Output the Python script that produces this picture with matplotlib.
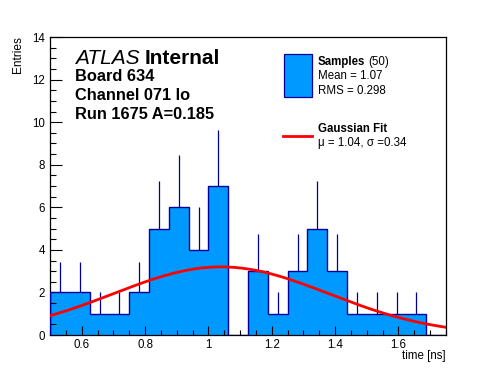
import numpy as np
import matplotlib
matplotlib.use("Agg")
import matplotlib.pyplot as plt
from matplotlib.patches import Rectangle
from matplotlib.lines import Line2D
from matplotlib.ticker import MultipleLocator, FixedLocator, FixedFormatter

# ---- data ----
bin_edges = np.linspace(0.5, 1.75, 21)
counts = [2, 2, 1, 1, 2, 5, 6, 4, 7, 0, 3, 1, 3, 5, 3, 1, 1, 1, 1, 0]
fit_amp = 3.2
fit_mu = 1.04
fit_sigma = 0.34
xticks = [0.6, 0.8, 1.0, 1.2, 1.4, 1.6]
xticklabels = ["0.6", "0.8", "1", "1.2", "1.4", "1.6"]
yticks = [0, 2, 4, 6, 8, 10, 12, 14]

FONT = "Liberation Sans"
plt.rcParams['font.family'] = [FONT, 'DejaVu Sans']

W, H = 496, 372
fig = plt.figure(figsize=(W / 100, H / 100), dpi=100)
fig.patch.set_facecolor("white")

def fx(px):
    return px / W

def fy(py):
    return 1 - py / H

ax = fig.add_axes([fx(50), fy(335), fx(446) - fx(50), fy(37) - fy(335)])

fill_c = "#0099ff"
line_c = "#000099"

counts_arr = np.array(counts, dtype=float)
centers = 0.5 * (bin_edges[:-1] + bin_edges[1:])

# error bars (upper half visible above fill)
mask = counts_arr > 0
ax.vlines(centers[mask], counts_arr[mask], counts_arr[mask] + np.sqrt(counts_arr[mask]),
          color=line_c, lw=0.9, zorder=2)

ax.stairs(counts_arr, bin_edges, fill=True, facecolor=fill_c, edgecolor="none", zorder=1)
ax.stairs(counts_arr, bin_edges, fill=False, edgecolor=line_c, lw=1.0, zorder=3)

xf = np.linspace(0.5, 1.75, 400)
yf = fit_amp * np.exp(-0.5 * ((xf - fit_mu) / fit_sigma) ** 2)
ax.plot(xf, yf, color="#ff0000", lw=2.0, zorder=4)

ax.set_xlim(0.5, 1.75)
ax.set_ylim(0, 14)

ax.xaxis.set_major_locator(FixedLocator(xticks))
ax.xaxis.set_major_formatter(FixedFormatter(xticklabels))
ax.xaxis.set_minor_locator(MultipleLocator(0.05))
ax.yaxis.set_major_locator(FixedLocator(yticks))
ax.yaxis.set_minor_locator(MultipleLocator(0.5))

ax.tick_params(axis="both", which="both", direction="in", top=False, right=False,
               labelsize=8.3, width=0.8, colors="black")
ax.tick_params(axis="x", which="major", length=6.5, pad=3)
ax.tick_params(axis="x", which="minor", length=3.3)
ax.tick_params(axis="y", which="major", length=8.6, pad=3.5)
ax.tick_params(axis="y", which="minor", length=4.3)
for s in ax.spines.values():
    s.set_linewidth(0.9)
    s.set_color("black")

fig.text(fx(446), fy(359), "time [ns]", ha="right", va="baseline", fontsize=8.3)
fig.text(fx(18.5), fy(36), "Entries", ha="center", va="top", rotation=90, fontsize=8.6)

renderer = fig.canvas.get_renderer()

# ATLAS Internal
t1 = fig.text(fx(75), fy(64), "ATLAS", fontsize=15, style="italic", ha="left", va="baseline")
bb = t1.get_window_extent(renderer)
fig.text(bb.x1 / W + 5 / W, fy(64), "Internal", fontsize=15, weight="bold", ha="left", va="baseline")

fig.text(fx(75), fy(81), "Board 634", fontsize=11.8, weight="bold", ha="left", va="baseline")
fig.text(fx(75), fy(100), "Channel 071 lo", fontsize=11.8, weight="bold", ha="left", va="baseline")
fig.text(fx(75), fy(119), "Run 1675 A=0.185", fontsize=11.8, weight="bold", ha="left", va="baseline")

# legend
fig.patches.append(Rectangle((fx(283.5), fy(96.5)), fx(311.5) - fx(283.5), fy(53.5) - fy(96.5),
                             transform=fig.transFigure, facecolor=fill_c, edgecolor=line_c, lw=0.9))
t2 = fig.text(fx(318), fy(65), "Samples", fontsize=8.3, weight="bold", ha="left", va="baseline")
bb2 = t2.get_window_extent(renderer)
fig.text(bb2.x1 / W + 3 / W, fy(65), "(50)", fontsize=8.3, ha="left", va="baseline")
fig.text(fx(318), fy(79), "Mean = 1.07", fontsize=8.3, ha="left", va="baseline")
fig.text(fx(318), fy(94), "RMS = 0.298", fontsize=8.3, ha="left", va="baseline")

fig.lines.append(Line2D([fx(283), fx(312)], [fy(136), fy(136)], transform=fig.transFigure,
                        color="#ff0000", lw=2.0))
fig.text(fx(318), fy(132), "Gaussian Fit", fontsize=8.3, weight="bold", ha="left", va="baseline")
fig.text(fx(318), fy(146), "\u03bc = 1.04, \u03c3 =0.34", fontsize=8.3, ha="left", va="baseline")

fig.savefig("out.png", dpi=100)
